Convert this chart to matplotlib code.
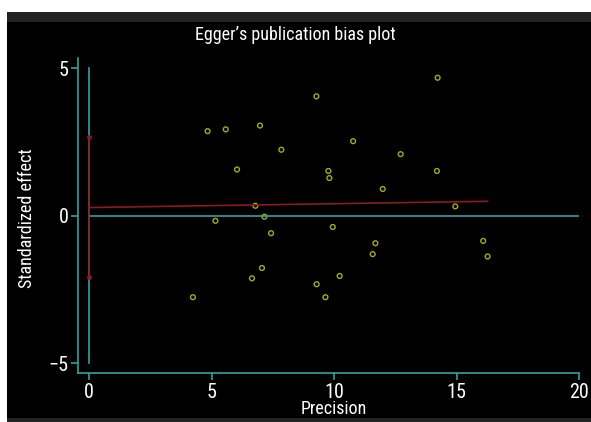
import matplotlib
matplotlib.use("Agg")
import matplotlib.pyplot as plt
from matplotlib.patches import Rectangle
from matplotlib import font_manager

# precision (1/SE) and standardized effect of each study
precision = [4.84, 5.58, 6.98, 7.85, 6.04, 6.79, 5.16, 7.16, 7.43, 7.06,
             6.65, 4.24, 14.23, 9.28, 10.78, 12.72, 9.77, 9.81, 14.20, 11.99,
             14.95, 9.95, 11.69, 11.58, 16.09, 16.27, 10.23, 9.29, 9.65]
std_effect = [2.87, 2.93, 3.06, 2.24, 1.57, 0.34, -0.17, -0.03, -0.59, -1.77,
              -2.12, -2.76, 4.68, 4.05, 2.53, 2.09, 1.52, 1.28, 1.52, 0.91,
              0.32, -0.38, -0.93, -1.30, -0.85, -1.38, -2.04, -2.32, -2.76]

# regression line and the confidence interval of its intercept
intercept = 0.28
slope = 0.013
ci_low, ci_high = -2.07, 2.67

xticks = [0, 5, 10, 15, 20]
yticks = [-5, 0, 5]

names = {f.name for f in font_manager.fontManager.ttflist}
fam = "DejaVu Sans"
for cand in ["Liberation Sans Narrow", "Roboto Condensed", "Open Sans Condensed", "Roboto"]:
    if cand in names:
        fam = cand
        break
plt.rcParams['font.family'] = [fam, 'DejaVu Sans']

teal = "#2ea3a0"
red = "#8c1c1c"
pts = "#a8a820"

fig = plt.figure(figsize=(5.91, 4.22), dpi=100, facecolor="white")
# dark panel with grey bands
fig.patches.append(Rectangle((7/591, 0), 1, 1 - 12/422, transform=fig.transFigure,
                             facecolor="#222222", edgecolor="none", zorder=-3))
fig.patches.append(Rectangle((7/591, 4/422), 1, 1 - 26/422, transform=fig.transFigure,
                             facecolor="black", edgecolor="none", zorder=-2))

ax = fig.add_axes([78/591, 1 - 373/422, 501/591, 315/422])
ax.set_facecolor("black")
ax.patch.set_alpha(0)

ax.plot([0, 0], [-5, 5], color=teal, lw=1.2)
ax.plot([0, 20], [0, 0], color=teal, lw=1.2)
ax.plot([0, 0], [ci_low, ci_high], color=red, lw=1.2, marker="o", ms=2.5)
xend = max(precision)
ax.plot([0, xend], [intercept, intercept + slope * xend], color=red, lw=1.2)
ax.scatter(precision, std_effect, s=12, facecolors="none", edgecolors=pts, linewidths=1)

ax.set_xlim(-0.45, 20)
ax.set_ylim(-5.33, 5.35)
for side in ["top", "right"]:
    ax.spines[side].set_visible(False)
for side in ["left", "bottom"]:
    ax.spines[side].set_color(teal)
    ax.spines[side].set_linewidth(1.2)
ax.set_xticks(xticks)
ax.set_yticks(yticks)
ax.set_yticklabels(["\u22125", "0", "5"])
ax.tick_params(colors=teal, labelcolor="white", labelsize=14.5, length=5, width=1.2, pad=2)

fig.text(0.5, 1 - 35/422, "Egger\u2019s publication bias plot", color="white",
         fontsize=13, ha="center", va="center")
fig.text(334/591, 1 - 409/422, "Precision", color="white", fontsize=13,
         ha="center", va="center")
fig.text(27/591, 1 - 218/422, "Standardized effect", color="white", fontsize=13,
         ha="center", va="center", rotation=90)

fig.savefig("out.png", dpi=100, facecolor="white")
